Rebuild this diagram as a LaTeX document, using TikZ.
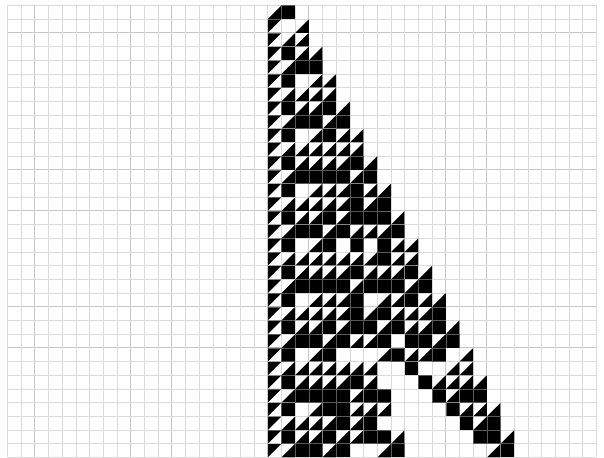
\documentclass[tikz,border=0pt]{standalone}
\tikzset{
  gridline/.style={draw=black!22, line width=0.9pt},
  overline/.style={draw=white, opacity=0.35, line width=0.6pt},
  cellfill/.style={fill=black}
}
\newcommand\cashapeo[2]{}
\newcommand\cashapex[2]{\fill[cellfill] (#1,32-#2) rectangle ++(1,1);}
\newcommand\cashapea[2]{\fill[cellfill] (#1,33-#2) -- ++(1,0) -- ++(-1,-1) -- cycle;}
\newcommand\cashapeb[2]{\fill[cellfill] (#1+1,33-#2) -- ++(0,-1) -- ++(-1,0) -- cycle;}
\newcommand\carow[2]{\foreach \s [count=\k from 19] in {#2} {\csname cashape\s\endcsname{\k}{#1}}}
\begin{document}
\begin{tikzpicture}[x=0.5cm,y=0.5cm]
\useasboundingbox[fill=white] (-0.55,-0.03) rectangle (43.55,33.40);
\draw[gridline, step=1] (0,0) grid (43,33);
\carow{0}{b,x}
\carow{1}{a,o,b}
\carow{2}{a,b,b}
\carow{3}{a,x,b,b}
\carow{4}{a,b,x,x}
\carow{5}{a,x,o,b,b}
\carow{6}{a,b,b,b,b}
\carow{7}{a,x,b,b,x,b}
\carow{8}{a,b,x,x,b,x}
\carow{9}{a,x,o,b,x,b,b}
\carow{10}{a,b,b,b,b,b,b}
\carow{11}{a,x,b,b,b,b,x,b}
\carow{12}{a,b,x,x,x,x,b,x}
\carow{13}{a,x,o,b,b,b,x,b,b}
\carow{14}{a,b,b,b,b,b,x,b,x}
\carow{15}{a,x,b,b,x,b,x,x,x,b}
\carow{16}{a,b,x,x,b,x,b,b,b,x}
\carow{17}{a,x,o,b,x,o,x,o,x,b,b}
\carow{18}{a,b,b,b,b,b,b,b,x,b,b}
\carow{19}{a,x,b,b,b,b,x,b,b,b,x,b}
\carow{20}{a,b,x,x,x,x,b,x,x,x,b,x}
\carow{21}{a,x,o,b,b,b,x,o,b,b,x,b,b}
\carow{22}{a,b,b,b,b,b,x,b,x,b,b,b,x}
\carow{23}{a,x,b,b,x,b,x,x,b,x,b,b,x,b}
\carow{24}{a,b,x,x,b,x,b,b,x,o,x,x,b,x}
\carow{25}{a,x,o,b,x,o,o,o,b,x,b,b,x,o,b}
\carow{26}{a,b,b,b,b,b,b,b,o,o,x,o,o,b,b}
\carow{27}{a,x,b,b,b,b,x,b,o,o,o,x,b,b,b,b}
\carow{28}{a,b,x,x,x,x,b,x,x,o,o,o,x,b,x,x}
\carow{29}{a,x,o,b,x,x,b,b,b,o,o,o,o,x,b,b,b}
\carow{30}{a,b,b,b,b,x,b,x,o,o,o,o,o,o,x,b,x}
\carow{31}{a,x,b,b,x,b,b,x,x,b,o,o,o,o,o,x,x,b}
\carow{32}{a,b,x,x,b,x,o,o,b,x,o,o,o,o,o,o,b,x}
\draw[overline, step=1] (0,0) grid (43,33);
\end{tikzpicture}
\end{document}
